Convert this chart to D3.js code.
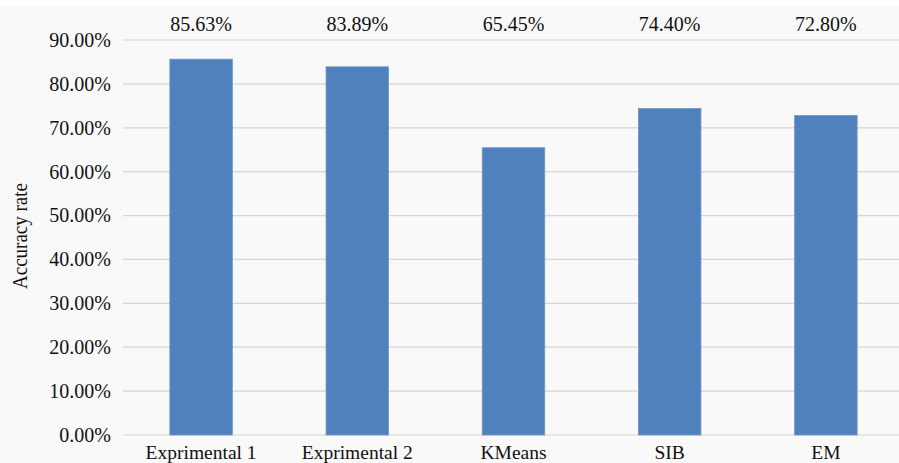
<!DOCTYPE html>
<html>
<head>
<meta charset="utf-8">
<script src="https://cdn.jsdelivr.net/npm/d3@7"></script>
<style>
  html, body { margin: 0; padding: 0; background: #ffffff; }
  svg { display: block; }
  svg text { font-family: "Liberation Serif", "DejaVu Serif", serif; }
</style>
</head>
<body>
<svg id="chart" width="899" height="463"></svg>
<script>
// Accuracy of each clustering method
const categories = ["Exprimental 1", "Exprimental 2", "KMeans", "SIB", "EM"];
const accuracy = [85.63, 83.89, 65.45, 74.40, 72.80];
const yTicks = [0, 10, 20, 30, 40, 50, 60, 70, 80, 90];

const svg = d3.select("#chart");
const W = 899, H = 463;

svg.append("rect").attr("x", 0).attr("y", 6).attr("width", W).attr("height", H - 6)
  .attr("fill", "#f9f9f9");

const x = d3.scaleBand().domain(categories).range([123, 904]).paddingInner(0.6).paddingOuter(0.3);
const y = d3.scaleLinear().domain([0, 90]).range([435, 40]);

// horizontal gridlines
svg.append("g").selectAll("line").data(yTicks).join("line")
  .attr("x1", 123).attr("x2", W)
  .attr("y1", d => y(d)).attr("y2", d => y(d))
  .attr("stroke", "#d9d3d3").attr("stroke-width", 1.2);

// y axis tick labels
const yAxis = d3.axisLeft(y).tickValues(yTicks).tickSize(0).tickPadding(0)
  .tickFormat(d => d.toFixed(2) + "%");
const gy = svg.append("g").attr("transform", "translate(111,0)").call(yAxis)
  .attr("font-size", 20);
gy.select(".domain").remove();
gy.selectAll("text").attr("fill", "#111");

// bars
svg.append("g").selectAll("rect").data(categories).join("rect")
  .attr("x", d => x(d))
  .attr("width", x.bandwidth())
  .attr("y", (d, i) => y(accuracy[i]))
  .attr("height", (d, i) => y(0) - y(accuracy[i]))
  .attr("fill", "#4f81bd")
  .attr("stroke", "#6c95c7").attr("stroke-width", 0.8);

// value labels above the plot
svg.append("g").attr("font-size", 20).selectAll("text").data(categories).join("text")
  .attr("x", d => x(d) + x.bandwidth() / 2)
  .attr("y", 31)
  .attr("text-anchor", "middle")
  .attr("fill", "#111")
  .text((d, i) => accuracy[i].toFixed(2) + "%");

// category labels
const xAxis = d3.axisBottom(x).tickSize(0).tickPadding(0);
const gx = svg.append("g").attr("transform", "translate(0,445)").call(xAxis)
  .attr("font-size", 19.5);
gx.select(".domain").remove();
gx.selectAll("text").attr("fill", "#111");

// y axis title
svg.append("text")
  .attr("transform", "translate(27,236) rotate(-90)")
  .attr("text-anchor", "middle")
  .attr("font-size", 21)
  .attr("textLength", 106)
  .attr("lengthAdjust", "spacingAndGlyphs")
  .attr("fill", "#111")
  .text("Accuracy rate");
</script>
</body>
</html>
